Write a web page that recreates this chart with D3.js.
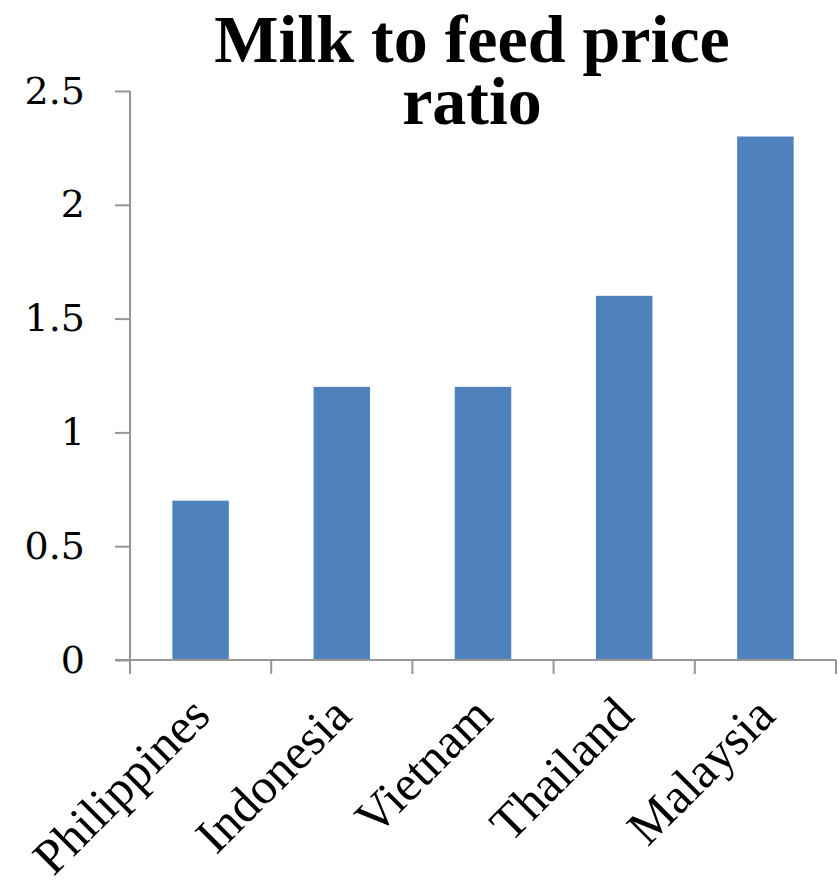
<!DOCTYPE html>
<html>
<head>
<meta charset="utf-8">
<script src="https://cdn.jsdelivr.net/npm/d3@7"></script>
<style>
  body { margin: 0; background: #fff; }
  svg { display: block; }
</style>
</head>
<body>
<script>
// chart data
var countries = ["Philippines", "Indonesia", "Vietnam", "Thailand", "Malaysia"];
var ratios = [0.7, 1.2, 1.2, 1.6, 2.3];
var yTicks = [0, 0.5, 1, 1.5, 2, 2.5];
var titleLines = ["Milk to feed price", "ratio"];

var chartPad = {
  w: 839,
  h: 889,
  top: 91,
  bottom: 229,
  left: 130,
  right: 3
};

window.onload = function() {
  drawBar(chartPad);
};

function drawBar(chartPad) {

  var svg = d3.select("body")
            .append("svg")
              .attr("width", chartPad.w)
              .attr("height", chartPad.h);

  var data = countries.map(function(c, i) {
    return { country: c, value: ratios[i] };
  });

  // band for bars (40% of each category slot)
  var xScale = d3.scaleBand()
                 .domain(countries)
                 .range([chartPad.left, chartPad.w - chartPad.right])
                 .paddingInner(0.6)
                 .paddingOuter(0.3);

  // band for category slots, no padding -> tick marks sit on the borders
  var slotScale = d3.scaleBand()
                    .domain(countries)
                    .range([chartPad.left, chartPad.w - chartPad.right]);

  var yScale = d3.scaleLinear()
                 .domain([0, 2.5])
                 .range([chartPad.h - chartPad.bottom, chartPad.top]);

  var axisColor = "#969696";

  // bars
  svg.selectAll("rect.bar")
     .data(data)
     .enter()
   .append("rect")
     .attr("class", "bar")
     .attr("x", function(d) { return xScale(d.country); })
     .attr("y", function(d) { return yScale(d.value); })
     .attr("width", xScale.bandwidth())
     .attr("height", function(d) { return yScale(0) - yScale(d.value); })
     .attr("fill", "#4f81bd");

  // y axis
  var yAxis = d3.axisLeft(yScale)
                .tickValues(yTicks)
                .tickSize(15)
                .tickPadding(30)
                .tickFormat(function(d) { return String(d); });

  var gy = svg.append("g")
              .attr("transform", "translate(" + chartPad.left + ",0)")
              .call(yAxis);
  gy.select(".domain").attr("stroke", axisColor).attr("stroke-width", 2)
    .attr("d", "M0," + yScale(2.5) + "V" + yScale(0));
  gy.selectAll(".tick line").attr("stroke", axisColor).attr("stroke-width", 2);
  gy.selectAll(".tick text")
    .attr("fill", "#000")
    .style("font-family", "'DejaVu Serif', serif")
    .style("font-size", "38px");

  // x axis line + boundary ticks
  var x0 = chartPad.left, x1 = chartPad.w - chartPad.right;
  var y0 = yScale(0);
  svg.append("line")
     .attr("x1", x0 - 15).attr("x2", x1)
     .attr("y1", y0).attr("y2", y0)
     .attr("stroke", axisColor).attr("stroke-width", 2);

  var bounds = countries.map(function(c) { return slotScale(c); });
  bounds.push(x1);
  svg.selectAll("line.xtick")
     .data(bounds)
     .enter()
   .append("line")
     .attr("class", "xtick")
     .attr("x1", function(d) { return d; })
     .attr("x2", function(d) { return d; })
     .attr("y1", y0).attr("y2", y0 + 14)
     .attr("stroke", axisColor).attr("stroke-width", 2);

  // category labels, rotated
  svg.selectAll("text.cat")
     .data(countries)
     .enter()
   .append("text")
     .attr("class", "cat")
     .attr("transform", function(d) {
       var cx = slotScale(d) + slotScale.bandwidth() / 2 + 12;
       return "translate(" + cx + "," + (y0 + 58) + ") rotate(-45)";
     })
     .attr("text-anchor", "end")
     .style("font-family", "'Liberation Serif', serif")
     .style("font-size", "50px")
     .text(function(d) { return d; });

  // title
  svg.selectAll("text.title")
     .data(titleLines)
     .enter()
   .append("text")
     .attr("class", "title")
     .attr("x", 472)
     .attr("y", function(d, i) { return 62 + i * 62; })
     .attr("text-anchor", "middle")
     .style("font-family", "'Liberation Serif', serif")
     .style("font-weight", "bold")
     .style("font-size", "68px")
     .text(function(d) { return d; });
}
</script>
</body>
</html>
